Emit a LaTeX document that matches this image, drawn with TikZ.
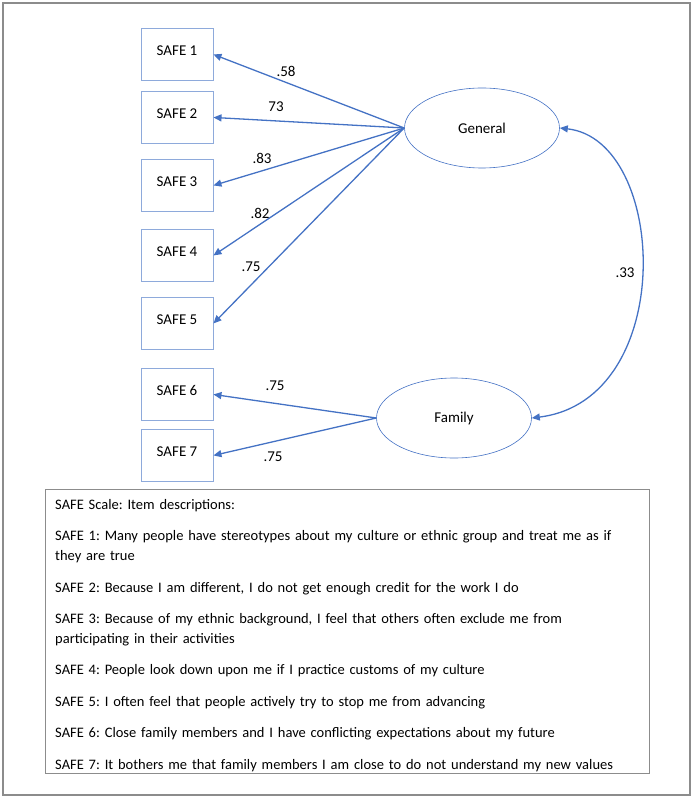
\documentclass[tikz,border=0pt]{standalone}
\usepackage{fontspec}
\setmainfont{Carlito}
\usetikzlibrary{arrows.meta,shapes.geometric}
\definecolor{semblue}{HTML}{4472C4}
\definecolor{boxblue}{HTML}{8EAADB}
\definecolor{frame}{HTML}{8C8C8C}

\tikzset{
  item/.style = {draw=boxblue, line width=0.9pt, minimum width=72pt, inner xsep=0pt, inner ysep=0pt,
                 text height=27pt, text depth=25pt, font=\fontsize{15}{17}\selectfont},
  factor/.style = {draw=semblue, ellipse, line width=0.6pt, minimum width=155pt, minimum height=80pt,
                   inner sep=0pt, font=\fontsize{15}{17}\selectfont},
  load/.style = {draw=semblue, line width=1.3pt, -{Triangle[length=8pt,width=7pt]}},
  wt/.style = {font=\fontsize{15}{17}\selectfont, inner sep=0pt}
}

\begin{document}
\frenchspacing
\begin{tikzpicture}[x=1pt, y=-1pt]
\useasboundingbox (0,0) rectangle (695,799);
\draw[frame, line width=1.6pt] (3,3) rectangle (690,795);

\node[item, anchor=north] (s1) at (177,28) {SAFE 1};
\node[item, anchor=north] (s2) at (177,91) {SAFE 2};
\node[item, anchor=north] (s3) at (177,159) {SAFE 3};
\node[item, anchor=north] (s4) at (177,229) {SAFE 4};
\node[item, anchor=north] (s5) at (177,297) {SAFE 5};
\node[item, anchor=north] (s6) at (177,368) {SAFE 6};
\node[item, anchor=north] (s7) at (177,429) {SAFE 7};

\node[factor] (gen) at (482,128) {General};
\node[factor] (fam) at (454,418) {Family};

\draw[load] (gen.west) -- (s1.east);
\draw[load] (gen.west) -- (s2.east);
\draw[load] (gen.west) -- (s3.east);
\draw[load] (gen.west) -- (s4.east);
\draw[load] (gen.west) -- (s5.east);
\draw[load] (fam.west) -- (s6.east);
\draw[load] (fam.west) -- (s7.east);
\draw[load, {Triangle[length=8pt,width=7pt]}-{Triangle[length=8pt,width=7pt]}]
  (gen.east) .. controls (668,140) and (678,400) .. (fam.east);

\node[wt] (w1) at (286,71) {.58};
\node[wt] (w2) at (276,107) {73};
\node[wt] (w3) at (262,158) {.83};
\node[wt] (w4) at (260,213) {.82};
\node[wt] (w5) at (251,267) {.75};
\node[wt] (w6) at (275,386) {.75};
\node[wt] (w7) at (273,457) {.75};
\node[wt] (r) at (625,273) {.33};

\node[draw=frame, line width=1.2pt, anchor=north west, minimum width=604pt,
      minimum height=284pt, inner sep=0pt] (desc) at (45,489) {};
\node[anchor=north west, align=left, text width=584pt, inner sep=0pt,
      font=\fontsize{14.5}{20}\selectfont] (desctext) at (55,499) {%
SAFE Scale: Item descriptions:\\[11.4pt]
SAFE 1: Many people have stereotypes about my culture or ethnic group and treat me as if\\
they are true\\[11.4pt]
SAFE 2: Because I am different, I do not get enough credit for the work I do\\[11.4pt]
SAFE 3: Because of my ethnic background, I feel that others often exclude me from\\
participating in their activities\\[11.4pt]
SAFE 4: People look down upon me if I practice customs of my culture\\[11.4pt]
SAFE 5: I often feel that people actively try to stop me from advancing\\[11.4pt]
SAFE 6: Close family members and I have conflicting expectations about my future\\[11.4pt]
SAFE 7: It bothers me that family members I am close to do not understand my new values};
\end{tikzpicture}
\end{document}
